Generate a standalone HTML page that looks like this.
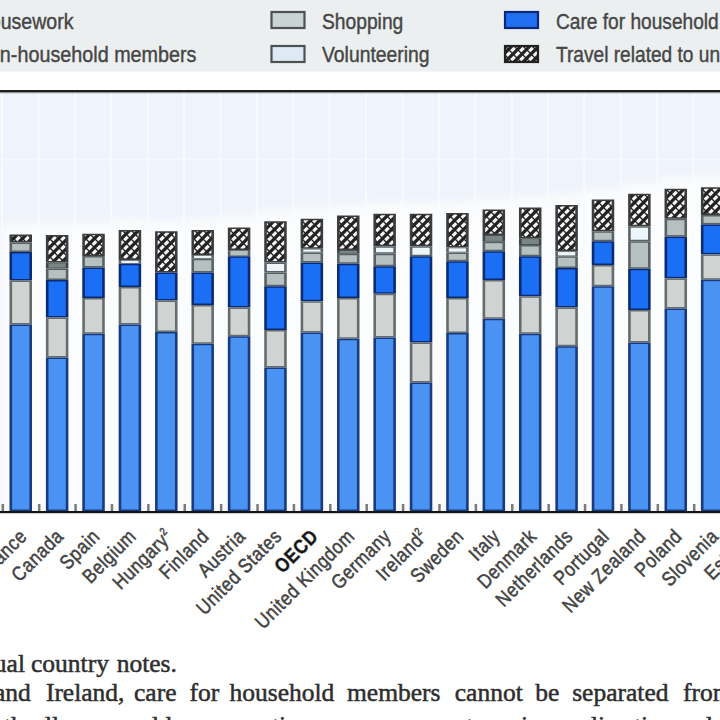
<!DOCTYPE html>
<html><head><meta charset="utf-8"><style>
html,body{margin:0;padding:0;background:#fff;}
body{width:720px;height:720px;overflow:hidden;position:relative;}
svg{position:absolute;left:0;top:0;}
.lbl{font-family:"Liberation Sans",sans-serif;font-size:20px;letter-spacing:0.7px;fill:#434343;stroke:#434343;stroke-width:0.5px;}
.b{font-weight:bold;fill:#111;}
.leg{font-family:"Liberation Sans",sans-serif;font-size:21.5px;fill:#464646;stroke:#464646;stroke-width:0.4px;}
.ft{font-family:"Liberation Serif",serif;font-size:25.5px;fill:#2e2e2e;stroke:#2e2e2e;stroke-width:0.5px;}
</style></head><body>
<svg width="720" height="720" viewBox="0 0 720 720">
<defs>
<filter id="blur" x="-10%" y="-10%" width="120%" height="120%"><feGaussianBlur stdDeviation="4"/></filter>
<pattern id="hatch" patternUnits="userSpaceOnUse" width="9" height="9">
<rect width="9" height="9" fill="#222"/>
<path d="M-2.25,6.75 L6.75,-2.25 M2.25,11.25 L11.25,2.25" stroke="#f4f4f4" stroke-width="3.1"/>
<path d="M0,0 L9,9" stroke="#222" stroke-width="1.3"/>
</pattern>
</defs>
<rect x="0" y="0" width="720" height="71.5" fill="#eceff0"/>
<rect x="0" y="90" width="720" height="2.5" fill="#1e1e1e"/>
<rect x="0" y="92.5" width="720" height="1" fill="#8a8a8a"/>
<rect x="0" y="93.5" width="720" height="417.5" fill="#eff3fb"/>
<g filter="url(#blur)">
<rect x="2.55" y="223.50" width="36.39" height="287.50" fill="#fbfcfd"/>
<rect x="38.95" y="224.00" width="36.39" height="287.00" fill="#fbfcfd"/>
<rect x="75.34" y="222.75" width="36.39" height="288.25" fill="#fbfcfd"/>
<rect x="111.73" y="219.00" width="36.39" height="292.00" fill="#fbfcfd"/>
<rect x="148.12" y="220.25" width="36.39" height="290.75" fill="#fbfcfd"/>
<rect x="184.50" y="219.00" width="36.39" height="292.00" fill="#fbfcfd"/>
<rect x="220.90" y="216.50" width="36.39" height="294.50" fill="#fbfcfd"/>
<rect x="257.29" y="210.25" width="36.39" height="300.75" fill="#fbfcfd"/>
<rect x="293.68" y="207.75" width="36.39" height="303.25" fill="#fbfcfd"/>
<rect x="330.06" y="204.50" width="36.39" height="306.50" fill="#fbfcfd"/>
<rect x="366.45" y="202.75" width="36.39" height="308.25" fill="#fbfcfd"/>
<rect x="402.85" y="202.75" width="36.39" height="308.25" fill="#fbfcfd"/>
<rect x="439.24" y="202.00" width="36.39" height="309.00" fill="#fbfcfd"/>
<rect x="475.62" y="198.50" width="36.39" height="312.50" fill="#fbfcfd"/>
<rect x="512.01" y="196.50" width="36.39" height="314.50" fill="#fbfcfd"/>
<rect x="548.40" y="194.00" width="36.39" height="317.00" fill="#fbfcfd"/>
<rect x="584.79" y="188.50" width="36.39" height="322.50" fill="#fbfcfd"/>
<rect x="621.18" y="182.75" width="36.39" height="328.25" fill="#fbfcfd"/>
<rect x="657.57" y="177.75" width="36.39" height="333.25" fill="#fbfcfd"/>
<rect x="693.96" y="176.25" width="36.39" height="334.75" fill="#fbfcfd"/>
<rect x="730.35" y="172.00" width="36.39" height="339.00" fill="#fbfcfd"/>
</g>
<rect x="1.05" y="93.5" width="2.2" height="417.50" fill="#fafcff" opacity="0.7"/>
<rect x="37.45" y="93.5" width="2.2" height="417.50" fill="#fafcff" opacity="0.7"/>
<rect x="73.84" y="93.5" width="2.2" height="417.50" fill="#fafcff" opacity="0.7"/>
<rect x="110.22" y="93.5" width="2.2" height="417.50" fill="#fafcff" opacity="0.7"/>
<rect x="146.62" y="93.5" width="2.2" height="417.50" fill="#fafcff" opacity="0.7"/>
<rect x="183.00" y="93.5" width="2.2" height="417.50" fill="#fafcff" opacity="0.7"/>
<rect x="219.40" y="93.5" width="2.2" height="417.50" fill="#fafcff" opacity="0.7"/>
<rect x="255.79" y="93.5" width="2.2" height="417.50" fill="#fafcff" opacity="0.7"/>
<rect x="292.18" y="93.5" width="2.2" height="417.50" fill="#fafcff" opacity="0.7"/>
<rect x="328.56" y="93.5" width="2.2" height="417.50" fill="#fafcff" opacity="0.7"/>
<rect x="364.95" y="93.5" width="2.2" height="417.50" fill="#fafcff" opacity="0.7"/>
<rect x="401.35" y="93.5" width="2.2" height="417.50" fill="#fafcff" opacity="0.7"/>
<rect x="437.74" y="93.5" width="2.2" height="417.50" fill="#fafcff" opacity="0.7"/>
<rect x="474.12" y="93.5" width="2.2" height="417.50" fill="#fafcff" opacity="0.7"/>
<rect x="510.51" y="93.5" width="2.2" height="417.50" fill="#fafcff" opacity="0.7"/>
<rect x="546.90" y="93.5" width="2.2" height="417.50" fill="#fafcff" opacity="0.7"/>
<rect x="583.29" y="93.5" width="2.2" height="417.50" fill="#fafcff" opacity="0.7"/>
<rect x="619.68" y="93.5" width="2.2" height="417.50" fill="#fafcff" opacity="0.7"/>
<rect x="656.07" y="93.5" width="2.2" height="417.50" fill="#fafcff" opacity="0.7"/>
<rect x="692.46" y="93.5" width="2.2" height="417.50" fill="#fafcff" opacity="0.7"/>
<rect x="728.85" y="93.5" width="2.2" height="417.50" fill="#fafcff" opacity="0.7"/>
<rect x="765.25" y="93.5" width="2.2" height="417.50" fill="#fafcff" opacity="0.7"/>
<rect x="0" y="158.5" width="720" height="2.2" fill="#f9fbff" opacity="0.6"/>
<rect x="9.50" y="234.50" width="22.50" height="8.00" fill="#3c3c3c"/>
<rect x="12.10" y="236.00" width="17.30" height="5.00" fill="url(#hatch)"/>
<rect x="9.50" y="242.50" width="22.50" height="9.50" fill="#586262"/>
<rect x="12.10" y="244.00" width="17.30" height="6.50" fill="#b6c0c0"/>
<rect x="9.50" y="252.00" width="22.50" height="28.50" fill="#0b2a74"/>
<rect x="12.10" y="253.50" width="17.30" height="25.50" fill="#1b6ff4"/>
<rect x="9.50" y="280.50" width="22.50" height="44.00" fill="#646c6c"/>
<rect x="12.10" y="282.00" width="17.30" height="41.00" fill="#cfd4d3"/>
<rect x="9.50" y="324.50" width="22.50" height="186.50" fill="#183a80"/>
<rect x="12.10" y="326.00" width="17.30" height="183.50" fill="#4a93f2"/>
<rect x="45.89" y="235.00" width="22.50" height="27.50" fill="#3c3c3c"/>
<rect x="48.49" y="236.50" width="17.30" height="24.50" fill="url(#hatch)"/>
<rect x="45.89" y="262.50" width="22.50" height="6.00" fill="#3e4646"/>
<rect x="48.49" y="263.30" width="17.30" height="4.40" fill="#7a8686"/>
<rect x="45.89" y="268.50" width="22.50" height="11.50" fill="#586262"/>
<rect x="48.49" y="270.00" width="17.30" height="8.50" fill="#b6c0c0"/>
<rect x="45.89" y="280.00" width="22.50" height="37.50" fill="#0b2a74"/>
<rect x="48.49" y="281.50" width="17.30" height="34.50" fill="#1b6ff4"/>
<rect x="45.89" y="317.50" width="22.50" height="40.00" fill="#646c6c"/>
<rect x="48.49" y="319.00" width="17.30" height="37.00" fill="#cfd4d3"/>
<rect x="45.89" y="357.50" width="22.50" height="153.50" fill="#183a80"/>
<rect x="48.49" y="359.00" width="17.30" height="150.50" fill="#4a93f2"/>
<rect x="82.28" y="233.75" width="22.50" height="22.25" fill="#3c3c3c"/>
<rect x="84.88" y="235.25" width="17.30" height="19.25" fill="url(#hatch)"/>
<rect x="82.28" y="256.00" width="22.50" height="11.50" fill="#586262"/>
<rect x="84.88" y="257.50" width="17.30" height="8.50" fill="#b6c0c0"/>
<rect x="82.28" y="267.50" width="22.50" height="30.50" fill="#0b2a74"/>
<rect x="84.88" y="269.00" width="17.30" height="27.50" fill="#1b6ff4"/>
<rect x="82.28" y="298.00" width="22.50" height="35.75" fill="#646c6c"/>
<rect x="84.88" y="299.50" width="17.30" height="32.75" fill="#cfd4d3"/>
<rect x="82.28" y="333.75" width="22.50" height="177.25" fill="#183a80"/>
<rect x="84.88" y="335.25" width="17.30" height="174.25" fill="#4a93f2"/>
<rect x="118.67" y="230.00" width="22.50" height="30.00" fill="#3c3c3c"/>
<rect x="121.27" y="231.50" width="17.30" height="27.00" fill="url(#hatch)"/>
<rect x="118.67" y="260.00" width="22.50" height="3.75" fill="#5a6468"/>
<rect x="121.27" y="260.80" width="17.30" height="2.15" fill="#eef5fa"/>
<rect x="118.67" y="263.75" width="22.50" height="23.25" fill="#0b2a74"/>
<rect x="121.27" y="265.25" width="17.30" height="20.25" fill="#1b6ff4"/>
<rect x="118.67" y="287.00" width="22.50" height="37.50" fill="#646c6c"/>
<rect x="121.27" y="288.50" width="17.30" height="34.50" fill="#cfd4d3"/>
<rect x="118.67" y="324.50" width="22.50" height="186.50" fill="#183a80"/>
<rect x="121.27" y="326.00" width="17.30" height="183.50" fill="#4a93f2"/>
<rect x="155.06" y="231.25" width="22.50" height="41.25" fill="#3c3c3c"/>
<rect x="157.66" y="232.75" width="17.30" height="38.25" fill="url(#hatch)"/>
<rect x="155.06" y="272.50" width="22.50" height="28.00" fill="#0b2a74"/>
<rect x="157.66" y="274.00" width="17.30" height="25.00" fill="#1b6ff4"/>
<rect x="155.06" y="300.50" width="22.50" height="31.50" fill="#646c6c"/>
<rect x="157.66" y="302.00" width="17.30" height="28.50" fill="#cfd4d3"/>
<rect x="155.06" y="332.00" width="22.50" height="179.00" fill="#183a80"/>
<rect x="157.66" y="333.50" width="17.30" height="176.00" fill="#4a93f2"/>
<rect x="191.45" y="230.00" width="22.50" height="25.00" fill="#3c3c3c"/>
<rect x="194.05" y="231.50" width="17.30" height="22.00" fill="url(#hatch)"/>
<rect x="191.45" y="255.00" width="22.50" height="3.75" fill="#5a6468"/>
<rect x="194.05" y="255.80" width="17.30" height="2.15" fill="#eef5fa"/>
<rect x="191.45" y="258.75" width="22.50" height="13.75" fill="#586262"/>
<rect x="194.05" y="260.25" width="17.30" height="10.75" fill="#b6c0c0"/>
<rect x="191.45" y="272.50" width="22.50" height="32.50" fill="#0b2a74"/>
<rect x="194.05" y="274.00" width="17.30" height="29.50" fill="#1b6ff4"/>
<rect x="191.45" y="305.00" width="22.50" height="38.75" fill="#646c6c"/>
<rect x="194.05" y="306.50" width="17.30" height="35.75" fill="#cfd4d3"/>
<rect x="191.45" y="343.75" width="22.50" height="167.25" fill="#183a80"/>
<rect x="194.05" y="345.25" width="17.30" height="164.25" fill="#4a93f2"/>
<rect x="227.84" y="227.50" width="22.50" height="22.50" fill="#3c3c3c"/>
<rect x="230.44" y="229.00" width="17.30" height="19.50" fill="url(#hatch)"/>
<rect x="227.84" y="250.00" width="22.50" height="6.25" fill="#586262"/>
<rect x="230.44" y="250.80" width="17.30" height="4.65" fill="#b6c0c0"/>
<rect x="227.84" y="256.25" width="22.50" height="51.25" fill="#0b2a74"/>
<rect x="230.44" y="257.75" width="17.30" height="48.25" fill="#1b6ff4"/>
<rect x="227.84" y="307.50" width="22.50" height="28.75" fill="#646c6c"/>
<rect x="230.44" y="309.00" width="17.30" height="25.75" fill="#cfd4d3"/>
<rect x="227.84" y="336.25" width="22.50" height="174.75" fill="#183a80"/>
<rect x="230.44" y="337.75" width="17.30" height="171.75" fill="#4a93f2"/>
<rect x="264.23" y="221.25" width="22.50" height="41.25" fill="#3c3c3c"/>
<rect x="266.83" y="222.75" width="17.30" height="38.25" fill="url(#hatch)"/>
<rect x="264.23" y="262.50" width="22.50" height="10.00" fill="#5a6468"/>
<rect x="266.83" y="264.00" width="17.30" height="7.00" fill="#eef5fa"/>
<rect x="264.23" y="272.50" width="22.50" height="13.75" fill="#586262"/>
<rect x="266.83" y="274.00" width="17.30" height="10.75" fill="#b6c0c0"/>
<rect x="264.23" y="286.25" width="22.50" height="43.75" fill="#0b2a74"/>
<rect x="266.83" y="287.75" width="17.30" height="40.75" fill="#1b6ff4"/>
<rect x="264.23" y="330.00" width="22.50" height="37.50" fill="#646c6c"/>
<rect x="266.83" y="331.50" width="17.30" height="34.50" fill="#cfd4d3"/>
<rect x="264.23" y="367.50" width="22.50" height="143.50" fill="#183a80"/>
<rect x="266.83" y="369.00" width="17.30" height="140.50" fill="#4a93f2"/>
<rect x="300.62" y="218.75" width="22.50" height="30.00" fill="#3c3c3c"/>
<rect x="303.22" y="220.25" width="17.30" height="27.00" fill="url(#hatch)"/>
<rect x="300.62" y="248.75" width="22.50" height="3.75" fill="#5a6468"/>
<rect x="303.22" y="249.55" width="17.30" height="2.15" fill="#eef5fa"/>
<rect x="300.62" y="252.50" width="22.50" height="10.00" fill="#586262"/>
<rect x="303.22" y="254.00" width="17.30" height="7.00" fill="#b6c0c0"/>
<rect x="300.62" y="262.50" width="22.50" height="38.75" fill="#0b2a74"/>
<rect x="303.22" y="264.00" width="17.30" height="35.75" fill="#1b6ff4"/>
<rect x="300.62" y="301.25" width="22.50" height="31.25" fill="#646c6c"/>
<rect x="303.22" y="302.75" width="17.30" height="28.25" fill="#cfd4d3"/>
<rect x="300.62" y="332.50" width="22.50" height="178.50" fill="#183a80"/>
<rect x="303.22" y="334.00" width="17.30" height="175.50" fill="#4a93f2"/>
<rect x="337.01" y="215.50" width="22.50" height="34.50" fill="#3c3c3c"/>
<rect x="339.61" y="217.00" width="17.30" height="31.50" fill="url(#hatch)"/>
<rect x="337.01" y="250.00" width="22.50" height="3.75" fill="#3e4646"/>
<rect x="339.61" y="250.80" width="17.30" height="2.15" fill="#7a8686"/>
<rect x="337.01" y="253.75" width="22.50" height="10.00" fill="#586262"/>
<rect x="339.61" y="255.25" width="17.30" height="7.00" fill="#b6c0c0"/>
<rect x="337.01" y="263.75" width="22.50" height="34.25" fill="#0b2a74"/>
<rect x="339.61" y="265.25" width="17.30" height="31.25" fill="#1b6ff4"/>
<rect x="337.01" y="298.00" width="22.50" height="40.75" fill="#646c6c"/>
<rect x="339.61" y="299.50" width="17.30" height="37.75" fill="#cfd4d3"/>
<rect x="337.01" y="338.75" width="22.50" height="172.25" fill="#183a80"/>
<rect x="339.61" y="340.25" width="17.30" height="169.25" fill="#4a93f2"/>
<rect x="373.40" y="213.75" width="22.50" height="32.50" fill="#3c3c3c"/>
<rect x="376.00" y="215.25" width="17.30" height="29.50" fill="url(#hatch)"/>
<rect x="373.40" y="246.25" width="22.50" height="7.50" fill="#5a6468"/>
<rect x="376.00" y="247.75" width="17.30" height="4.50" fill="#eef5fa"/>
<rect x="373.40" y="253.75" width="22.50" height="12.50" fill="#586262"/>
<rect x="376.00" y="255.25" width="17.30" height="9.50" fill="#b6c0c0"/>
<rect x="373.40" y="266.25" width="22.50" height="27.50" fill="#0b2a74"/>
<rect x="376.00" y="267.75" width="17.30" height="24.50" fill="#1b6ff4"/>
<rect x="373.40" y="293.75" width="22.50" height="43.75" fill="#646c6c"/>
<rect x="376.00" y="295.25" width="17.30" height="40.75" fill="#cfd4d3"/>
<rect x="373.40" y="337.50" width="22.50" height="173.50" fill="#183a80"/>
<rect x="376.00" y="339.00" width="17.30" height="170.50" fill="#4a93f2"/>
<rect x="409.79" y="213.75" width="22.50" height="32.50" fill="#3c3c3c"/>
<rect x="412.39" y="215.25" width="17.30" height="29.50" fill="url(#hatch)"/>
<rect x="409.79" y="246.25" width="22.50" height="10.00" fill="#5a6468"/>
<rect x="412.39" y="247.75" width="17.30" height="7.00" fill="#eef5fa"/>
<rect x="409.79" y="256.25" width="22.50" height="86.25" fill="#0b2a74"/>
<rect x="412.39" y="257.75" width="17.30" height="83.25" fill="#1b6ff4"/>
<rect x="409.79" y="342.50" width="22.50" height="40.00" fill="#646c6c"/>
<rect x="412.39" y="344.00" width="17.30" height="37.00" fill="#cfd4d3"/>
<rect x="409.79" y="382.50" width="22.50" height="128.50" fill="#183a80"/>
<rect x="412.39" y="384.00" width="17.30" height="125.50" fill="#4a93f2"/>
<rect x="446.18" y="213.00" width="22.50" height="34.50" fill="#3c3c3c"/>
<rect x="448.78" y="214.50" width="17.30" height="31.50" fill="url(#hatch)"/>
<rect x="446.18" y="247.50" width="22.50" height="5.00" fill="#5a6468"/>
<rect x="448.78" y="248.30" width="17.30" height="3.40" fill="#eef5fa"/>
<rect x="446.18" y="252.50" width="22.50" height="8.75" fill="#586262"/>
<rect x="448.78" y="254.00" width="17.30" height="5.75" fill="#b6c0c0"/>
<rect x="446.18" y="261.25" width="22.50" height="36.75" fill="#0b2a74"/>
<rect x="448.78" y="262.75" width="17.30" height="33.75" fill="#1b6ff4"/>
<rect x="446.18" y="298.00" width="22.50" height="35.00" fill="#646c6c"/>
<rect x="448.78" y="299.50" width="17.30" height="32.00" fill="#cfd4d3"/>
<rect x="446.18" y="333.00" width="22.50" height="178.00" fill="#183a80"/>
<rect x="448.78" y="334.50" width="17.30" height="175.00" fill="#4a93f2"/>
<rect x="482.57" y="209.50" width="22.50" height="25.50" fill="#3c3c3c"/>
<rect x="485.17" y="211.00" width="17.30" height="22.50" fill="url(#hatch)"/>
<rect x="482.57" y="235.00" width="22.50" height="6.70" fill="#3e4646"/>
<rect x="485.17" y="235.80" width="17.30" height="5.10" fill="#7a8686"/>
<rect x="482.57" y="241.70" width="22.50" height="9.55" fill="#586262"/>
<rect x="485.17" y="243.20" width="17.30" height="6.55" fill="#b6c0c0"/>
<rect x="482.57" y="251.25" width="22.50" height="28.75" fill="#0b2a74"/>
<rect x="485.17" y="252.75" width="17.30" height="25.75" fill="#1b6ff4"/>
<rect x="482.57" y="280.00" width="22.50" height="38.75" fill="#646c6c"/>
<rect x="485.17" y="281.50" width="17.30" height="35.75" fill="#cfd4d3"/>
<rect x="482.57" y="318.75" width="22.50" height="192.25" fill="#183a80"/>
<rect x="485.17" y="320.25" width="17.30" height="189.25" fill="#4a93f2"/>
<rect x="518.96" y="207.50" width="22.50" height="30.80" fill="#3c3c3c"/>
<rect x="521.56" y="209.00" width="17.30" height="27.80" fill="url(#hatch)"/>
<rect x="518.96" y="238.30" width="22.50" height="6.70" fill="#3e4646"/>
<rect x="521.56" y="239.10" width="17.30" height="5.10" fill="#7a8686"/>
<rect x="518.96" y="245.00" width="22.50" height="11.25" fill="#586262"/>
<rect x="521.56" y="246.50" width="17.30" height="8.25" fill="#b6c0c0"/>
<rect x="518.96" y="256.25" width="22.50" height="40.00" fill="#0b2a74"/>
<rect x="521.56" y="257.75" width="17.30" height="37.00" fill="#1b6ff4"/>
<rect x="518.96" y="296.25" width="22.50" height="37.50" fill="#646c6c"/>
<rect x="521.56" y="297.75" width="17.30" height="34.50" fill="#cfd4d3"/>
<rect x="518.96" y="333.75" width="22.50" height="177.25" fill="#183a80"/>
<rect x="521.56" y="335.25" width="17.30" height="174.25" fill="#4a93f2"/>
<rect x="555.35" y="205.00" width="22.50" height="46.25" fill="#3c3c3c"/>
<rect x="557.95" y="206.50" width="17.30" height="43.25" fill="url(#hatch)"/>
<rect x="555.35" y="251.25" width="22.50" height="5.00" fill="#5a6468"/>
<rect x="557.95" y="252.05" width="17.30" height="3.40" fill="#eef5fa"/>
<rect x="555.35" y="256.25" width="22.50" height="11.75" fill="#586262"/>
<rect x="557.95" y="257.75" width="17.30" height="8.75" fill="#b6c0c0"/>
<rect x="555.35" y="268.00" width="22.50" height="39.50" fill="#0b2a74"/>
<rect x="557.95" y="269.50" width="17.30" height="36.50" fill="#1b6ff4"/>
<rect x="555.35" y="307.50" width="22.50" height="38.75" fill="#646c6c"/>
<rect x="557.95" y="309.00" width="17.30" height="35.75" fill="#cfd4d3"/>
<rect x="555.35" y="346.25" width="22.50" height="164.75" fill="#183a80"/>
<rect x="557.95" y="347.75" width="17.30" height="161.75" fill="#4a93f2"/>
<rect x="591.74" y="199.50" width="22.50" height="31.75" fill="#3c3c3c"/>
<rect x="594.34" y="201.00" width="17.30" height="28.75" fill="url(#hatch)"/>
<rect x="591.74" y="231.25" width="22.50" height="10.00" fill="#586262"/>
<rect x="594.34" y="232.75" width="17.30" height="7.00" fill="#b6c0c0"/>
<rect x="591.74" y="241.25" width="22.50" height="23.75" fill="#0b2a74"/>
<rect x="594.34" y="242.75" width="17.30" height="20.75" fill="#1b6ff4"/>
<rect x="591.74" y="265.00" width="22.50" height="21.25" fill="#646c6c"/>
<rect x="594.34" y="266.50" width="17.30" height="18.25" fill="#cfd4d3"/>
<rect x="591.74" y="286.25" width="22.50" height="224.75" fill="#183a80"/>
<rect x="594.34" y="287.75" width="17.30" height="221.75" fill="#4a93f2"/>
<rect x="628.13" y="193.75" width="22.50" height="32.50" fill="#3c3c3c"/>
<rect x="630.73" y="195.25" width="17.30" height="29.50" fill="url(#hatch)"/>
<rect x="628.13" y="226.25" width="22.50" height="15.00" fill="#5a6468"/>
<rect x="630.73" y="227.75" width="17.30" height="12.00" fill="#eef5fa"/>
<rect x="628.13" y="241.25" width="22.50" height="27.50" fill="#586262"/>
<rect x="630.73" y="242.75" width="17.30" height="24.50" fill="#b6c0c0"/>
<rect x="628.13" y="268.75" width="22.50" height="41.25" fill="#0b2a74"/>
<rect x="630.73" y="270.25" width="17.30" height="38.25" fill="#1b6ff4"/>
<rect x="628.13" y="310.00" width="22.50" height="32.50" fill="#646c6c"/>
<rect x="630.73" y="311.50" width="17.30" height="29.50" fill="#cfd4d3"/>
<rect x="628.13" y="342.50" width="22.50" height="168.50" fill="#183a80"/>
<rect x="630.73" y="344.00" width="17.30" height="165.50" fill="#4a93f2"/>
<rect x="664.52" y="188.75" width="22.50" height="30.00" fill="#3c3c3c"/>
<rect x="667.12" y="190.25" width="17.30" height="27.00" fill="url(#hatch)"/>
<rect x="664.52" y="218.75" width="22.50" height="17.85" fill="#586262"/>
<rect x="667.12" y="220.25" width="17.30" height="14.85" fill="#b6c0c0"/>
<rect x="664.52" y="236.60" width="22.50" height="41.80" fill="#0b2a74"/>
<rect x="667.12" y="238.10" width="17.30" height="38.80" fill="#1b6ff4"/>
<rect x="664.52" y="278.40" width="22.50" height="30.10" fill="#646c6c"/>
<rect x="667.12" y="279.90" width="17.30" height="27.10" fill="#cfd4d3"/>
<rect x="664.52" y="308.50" width="22.50" height="202.50" fill="#183a80"/>
<rect x="667.12" y="310.00" width="17.30" height="199.50" fill="#4a93f2"/>
<rect x="700.91" y="187.25" width="22.50" height="27.75" fill="#3c3c3c"/>
<rect x="703.51" y="188.75" width="17.30" height="24.75" fill="url(#hatch)"/>
<rect x="700.91" y="215.00" width="22.50" height="9.40" fill="#586262"/>
<rect x="703.51" y="216.50" width="17.30" height="6.40" fill="#b6c0c0"/>
<rect x="700.91" y="224.40" width="22.50" height="30.00" fill="#0b2a74"/>
<rect x="703.51" y="225.90" width="17.30" height="27.00" fill="#1b6ff4"/>
<rect x="700.91" y="254.40" width="22.50" height="25.30" fill="#646c6c"/>
<rect x="703.51" y="255.90" width="17.30" height="22.30" fill="#cfd4d3"/>
<rect x="700.91" y="279.70" width="22.50" height="231.30" fill="#183a80"/>
<rect x="703.51" y="281.20" width="17.30" height="228.30" fill="#4a93f2"/>
<rect x="737.30" y="183.00" width="22.50" height="29.00" fill="#3c3c3c"/>
<rect x="739.90" y="184.50" width="17.30" height="26.00" fill="url(#hatch)"/>
<rect x="737.30" y="212.00" width="22.50" height="10.00" fill="#586262"/>
<rect x="739.90" y="213.50" width="17.30" height="7.00" fill="#b6c0c0"/>
<rect x="737.30" y="222.00" width="22.50" height="28.00" fill="#0b2a74"/>
<rect x="739.90" y="223.50" width="17.30" height="25.00" fill="#1b6ff4"/>
<rect x="737.30" y="250.00" width="22.50" height="22.00" fill="#646c6c"/>
<rect x="739.90" y="251.50" width="17.30" height="19.00" fill="#cfd4d3"/>
<rect x="737.30" y="272.00" width="22.50" height="239.00" fill="#183a80"/>
<rect x="739.90" y="273.50" width="17.30" height="236.00" fill="#4a93f2"/>
<rect x="1.55" y="504" width="2.5" height="7" fill="#7a7a7a"/>
<rect x="37.95" y="504" width="2.5" height="7" fill="#7a7a7a"/>
<rect x="74.34" y="504" width="2.5" height="7" fill="#7a7a7a"/>
<rect x="110.72" y="504" width="2.5" height="7" fill="#7a7a7a"/>
<rect x="147.12" y="504" width="2.5" height="7" fill="#7a7a7a"/>
<rect x="183.50" y="504" width="2.5" height="7" fill="#7a7a7a"/>
<rect x="219.90" y="504" width="2.5" height="7" fill="#7a7a7a"/>
<rect x="256.29" y="504" width="2.5" height="7" fill="#7a7a7a"/>
<rect x="292.68" y="504" width="2.5" height="7" fill="#7a7a7a"/>
<rect x="329.06" y="504" width="2.5" height="7" fill="#7a7a7a"/>
<rect x="365.45" y="504" width="2.5" height="7" fill="#7a7a7a"/>
<rect x="401.85" y="504" width="2.5" height="7" fill="#7a7a7a"/>
<rect x="438.24" y="504" width="2.5" height="7" fill="#7a7a7a"/>
<rect x="474.62" y="504" width="2.5" height="7" fill="#7a7a7a"/>
<rect x="511.01" y="504" width="2.5" height="7" fill="#7a7a7a"/>
<rect x="547.40" y="504" width="2.5" height="7" fill="#7a7a7a"/>
<rect x="583.79" y="504" width="2.5" height="7" fill="#7a7a7a"/>
<rect x="620.18" y="504" width="2.5" height="7" fill="#7a7a7a"/>
<rect x="656.57" y="504" width="2.5" height="7" fill="#7a7a7a"/>
<rect x="692.96" y="504" width="2.5" height="7" fill="#7a7a7a"/>
<rect x="729.35" y="504" width="2.5" height="7" fill="#7a7a7a"/>
<rect x="765.75" y="504" width="2.5" height="7" fill="#7a7a7a"/>
<rect x="0" y="511.00" width="720" height="2.2" fill="#141414"/>
<text transform="translate(28.25,537.5) rotate(-45) scale(0.86,1)" text-anchor="end" class="lbl">France</text>
<text transform="translate(64.64,537.5) rotate(-45) scale(0.86,1)" text-anchor="end" class="lbl">Canada</text>
<text transform="translate(101.03,537.5) rotate(-45) scale(0.86,1)" text-anchor="end" class="lbl">Spain</text>
<text transform="translate(137.42,537.5) rotate(-45) scale(0.86,1)" text-anchor="end" class="lbl">Belgium</text>
<text transform="translate(173.81,537.5) rotate(-45) scale(0.86,1)" text-anchor="end" class="lbl">Hungary<tspan font-size="11" dy="-8">2</tspan></text>
<text transform="translate(210.20,537.5) rotate(-45) scale(0.86,1)" text-anchor="end" class="lbl">Finland</text>
<text transform="translate(246.59,537.5) rotate(-45) scale(0.86,1)" text-anchor="end" class="lbl">Austria</text>
<text transform="translate(282.98,537.5) rotate(-45) scale(0.86,1)" text-anchor="end" class="lbl">United States</text>
<text transform="translate(319.37,537.5) rotate(-45) scale(0.86,1)" text-anchor="end" class="lbl b">OECD</text>
<text transform="translate(355.76,537.5) rotate(-45) scale(0.86,1)" text-anchor="end" class="lbl">United Kingdom</text>
<text transform="translate(392.15,537.5) rotate(-45) scale(0.86,1)" text-anchor="end" class="lbl">Germany</text>
<text transform="translate(428.54,537.5) rotate(-45) scale(0.86,1)" text-anchor="end" class="lbl">Ireland<tspan font-size="11" dy="-8">2</tspan></text>
<text transform="translate(464.93,537.5) rotate(-45) scale(0.86,1)" text-anchor="end" class="lbl">Sweden</text>
<text transform="translate(501.32,537.5) rotate(-45) scale(0.86,1)" text-anchor="end" class="lbl">Italy</text>
<text transform="translate(537.71,537.5) rotate(-45) scale(0.86,1)" text-anchor="end" class="lbl">Denmark</text>
<text transform="translate(574.10,537.5) rotate(-45) scale(0.86,1)" text-anchor="end" class="lbl">Netherlands</text>
<text transform="translate(610.49,537.5) rotate(-45) scale(0.86,1)" text-anchor="end" class="lbl">Portugal</text>
<text transform="translate(646.88,537.5) rotate(-45) scale(0.86,1)" text-anchor="end" class="lbl">New Zealand</text>
<text transform="translate(683.27,537.5) rotate(-45) scale(0.86,1)" text-anchor="end" class="lbl">Poland</text>
<text transform="translate(719.66,537.5) rotate(-45) scale(0.86,1)" text-anchor="end" class="lbl">Slovenia</text>
<text transform="translate(756.05,537.5) rotate(-45) scale(0.86,1)" text-anchor="end" class="lbl">Estonia</text>
<rect x="271.5" y="12" width="33" height="16" fill="#c9d3d2" stroke="#4a5252" stroke-width="2.2"/>
<rect x="271.5" y="46" width="33" height="16" fill="#dde9f5" stroke="#4a5252" stroke-width="2.2"/>
<rect x="505" y="12" width="33" height="16" fill="#1f6ff0" stroke="#0a2878" stroke-width="2.2"/>
<rect x="505" y="46" width="33" height="16" fill="url(#hatch)" stroke="#222" stroke-width="2.2"/>
<text transform="translate(322,28.5) scale(0.895,1)" text-anchor="start" class="leg">Shopping</text>
<text transform="translate(322,62) scale(0.9,1)" text-anchor="start" class="leg">Volunteering</text>
<text transform="translate(556,28.5) scale(0.89,1)" text-anchor="start" class="leg">Care for household members</text>
<text transform="translate(556,62) scale(0.89,1)" text-anchor="start" class="leg">Travel related to unpaid work</text>
<text transform="translate(73.5,28.5) scale(0.91,1)" text-anchor="end" class="leg">Routine housework</text>
<text transform="translate(196.5,62) scale(0.92,1)" text-anchor="end" class="leg">Care for non-household members</text>
<text x="25" y="672" text-anchor="end" class="ft">Source: see individual</text>
<text x="31" y="672" class="ft">country</text>
<text x="116.7" y="672" class="ft">notes.</text>
<text x="-6" y="701.4" class="ft">and</text>
<text x="45.9" y="701.4" class="ft">Ireland,</text>
<text x="134" y="701.4" class="ft">care</text>
<text x="189.4" y="701.4" class="ft">for</text>
<text x="229.5" y="701.4" class="ft">household</text>
<text x="347" y="701.4" class="ft">members</text>
<text x="454.8" y="701.4" class="ft">cannot</text>
<text x="535.3" y="701.4" class="ft">be</text>
<text x="572.2" y="701.4" class="ft">separated</text>
<text x="683" y="701.4" class="ft">from</text>
<text x="4" y="734" class="ft">th</text>
<text x="45" y="734" class="ft">ll</text>
<text x="152" y="734" class="ft">ld</text>
<text x="272" y="734" class="ft">ti</text>
<text x="466" y="734" class="ft">t</text>
<text x="521" y="734" class="ft">i</text>
<text x="591" y="734" class="ft">li</text>
<text x="634" y="734" class="ft">ti</text>
<text x="706" y="734" class="ft">l</text>
</svg>
</body></html>
